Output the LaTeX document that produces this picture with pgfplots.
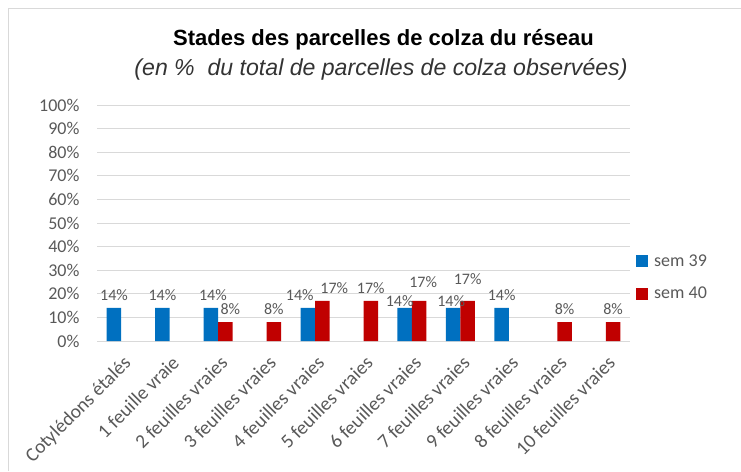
\documentclass[border=0pt]{standalone}
\usepackage{pgfplots}
\usepackage{pgfplotstable}
\pgfplotsset{compat=1.18}
\usepackage{fontspec}
\setmainfont{Carlito}
\newfontfamily\arialfont{Liberation Sans}
\usepackage{graphicx}
\definecolor{blueS}{HTML}{0070C0}
\definecolor{redS}{HTML}{C00000}
\definecolor{txt}{HTML}{595959}
\definecolor{gridc}{HTML}{D9D9D9}

\pgfplotstableread{
x y dx dy
0 14 0 0
1 14 0 0
2 14 2 0
4 14 -8 0
6 14 -5 -6
7 14 -2 -6
8 14 0 0
}\semA
\pgfplotstableread{
x y dx dy
2 8 5 0
3 8 0 0
4 17 12 0
5 17 0 0
6 17 4 6
7 17 0 9
9 8 0 0
10 8 0 0
}\semB

\begin{document}
\begin{tikzpicture}
\begin{axis}[
  at={(97pt,-341pt)}, anchor=south west,
  scale only axis, width=533pt, height=236pt,
  xmin=-0.5, xmax=10.5, ymin=0, ymax=100,
  ybar=0pt, bar width=14.5pt,
  axis line style={draw=none},
  major tick length=0pt,
  ytick={0,10,...,100},
  ymajorgrids, grid style={gridc, line width=0.8pt},
  yticklabel={\pgfmathprintnumber{\tick}\%},
  /pgf/number format/assume math mode=true,
  yticklabel style={font=\fontsize{18}{21}\selectfont, text=txt, xshift=-14pt},
  xtick={0,...,10},
  xticklabels={Cotylédons étalés, 1 feuille vraie, 2 feuilles vraies, 3 feuilles vraies, 4 feuilles vraies, 5 feuilles vraies, 6 feuilles vraies, 7 feuilles vraies, 9 feuilles vraies, 8 feuilles vraies, 10 feuilles vraies},
  xticklabel style={font=\fontsize{19.5}{22}\selectfont, text=txt, xshift=1pt, yshift=-12pt, rotate=45, anchor=north east, inner sep=1pt},
  nodes near coords={\pgfmathprintnumber[fixed,precision=0]{\pgfplotspointmeta}\%},
  every node near coord/.append style={font=\fontsize{16}{19}\selectfont, text=txt, anchor=south, yshift=4pt},
  visualization depends on={\thisrow{dx} \as \myDX},
  visualization depends on={\thisrow{dy} \as \myDY},
  every node near coord/.append style={xshift=\myDX pt, yshift=\myDY pt},
  legend style={at={(1,0.37)}, anchor=north west, xshift=6pt, draw=none, fill=none,
    font=\fontsize{18}{21}\selectfont, text=txt, row sep=17pt, inner sep=0pt,
    nodes={inner sep=1pt}},
  legend cell align=left,
  area legend,
  legend image code/.code={\fill[#1] (0pt,-6pt) rectangle (12pt,6pt);},
]
\addplot[fill=blueS, draw=none] table[x=x, y=y] {\semA};
\addplot[fill=redS, draw=none] table[x=x, y=y] {\semB};
\legend{\hspace{5pt}sem 39, \hspace{5pt}sem 40}
\end{axis}
\draw[gridc, line width=0.8pt] (8pt,-471pt) -- (8pt,-8pt) -- (741pt,-8pt);
\node[inner sep=0] at (383.5pt,-40pt) {\arialfont\bfseries\fontsize{22}{26}\selectfont Stades des parcelles de colza du réseau};
\node[inner sep=0, text=black!80] at (381pt,-69pt) {\arialfont\itshape\fontsize{23.1}{27}\selectfont (en \%\ \ du total de parcelles de colza observées)};
\pgfresetboundingbox
\useasboundingbox (0,0) rectangle (741pt,-471pt);
\end{tikzpicture}
\end{document}
